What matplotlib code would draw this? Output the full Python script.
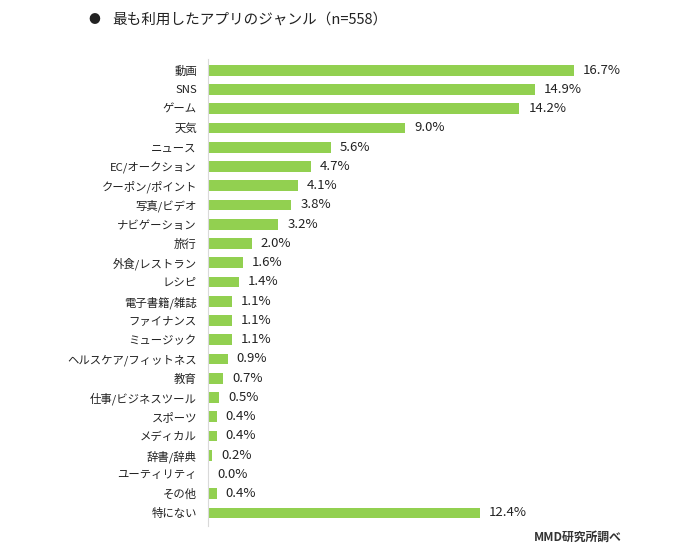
import matplotlib
matplotlib.use('Agg')
import matplotlib.pyplot as plt

plt.rcParams['font.family'] = ['Noto Sans CJK JP', 'DejaVu Sans']

genres = ['動画', 'SNS', 'ゲーム', '天気', 'ニュース', 'EC/オークション',
          'クーポン/ポイント', '写真/ビデオ', 'ナビゲーション', '旅行',
          '外食/レストラン', 'レシピ', '電子書籍/雑誌', 'ファイナンス',
          'ミュージック', 'ヘルスケア/フィットネス', '教育', '仕事/ビジネスツール',
          'スポーツ', 'メディカル', '辞書/辞典', 'ユーティリティ', 'その他', '特にない']
shares = [16.7, 14.9, 14.2, 9.0, 5.6, 4.7, 4.1, 3.8, 3.2, 2.0,
          1.6, 1.4, 1.1, 1.1, 1.1, 0.9, 0.7, 0.5, 0.4, 0.4, 0.2, 0.0, 0.4, 12.4]

title = '最も利用したアプリのジャンル（n=558）'
source = 'MMD研究所調べ'

fig = plt.figure(figsize=(7.0, 5.49), dpi=100)
ax = fig.add_axes([208 / 700, 1 - 522.6 / 549, 442 / 700, 462 / 549])

ypos = list(range(len(genres)))
ax.barh(ypos, shares, height=0.55, color='#92D050')
for y, v in zip(ypos, shares):
    ax.annotate(f'{v:.1f}%', (v, y), xytext=(6.5, 0), textcoords='offset points',
                va='center', ha='left', fontsize=9.5, color='#222222')

ax.set_xlim(0, 442 / 21.92)
ax.set_ylim(len(genres) - 0.5, -0.5)
ax.set_yticks(ypos)
ax.set_yticklabels(genres, fontsize=8.2, color='#222222')
ax.tick_params(axis='y', length=0, pad=8)
ax.set_xticks([])
for s in ['top', 'right', 'bottom']:
    ax.spines[s].set_visible(False)
ax.spines['left'].set_color('#d9d9d9')
ax.spines['left'].set_bounds(len(genres) - 0.3, -0.6)

fig.text(88 / 700, 1 - 20 / 549, '●', fontsize=8.5, va='center', ha='left',
         color='#222222')
fig.text(112 / 700, 1 - 20 / 549, title, fontsize=10.5, va='center', ha='left',
         color='#222222')
fig.text(622 / 700, 1 - 537 / 549, source, fontsize=8.5, va='center', ha='right',
         fontweight='bold', color='#333333')

fig.savefig('out.png', dpi=100)
